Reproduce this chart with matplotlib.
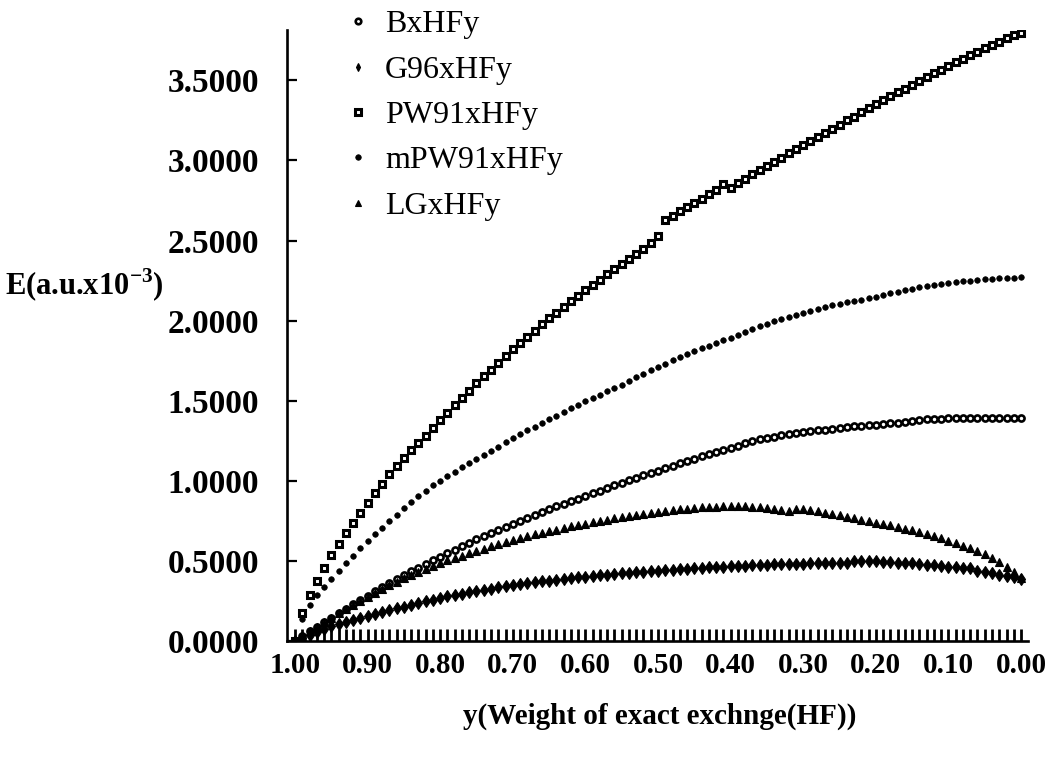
import numpy as np
import matplotlib
matplotlib.use("Agg")
import matplotlib.pyplot as plt
from matplotlib.ticker import FixedLocator, FormatStrFormatter

plt.rcParams['font.family'] = ['Liberation Serif', 'DejaVu Serif']
plt.rcParams['mathtext.fontset'] = 'custom'
plt.rcParams['mathtext.rm'] = 'Liberation Serif:bold'
plt.rcParams['mathtext.bf'] = 'Liberation Serif:bold'

# weight of exact (HF) exchange, from 1.00 down to 0.00
hf_weight = np.round(np.arange(100, -1, -1) * 0.01, 2)

bx_hf = [0.000, 0.030, 0.060, 0.090, 0.118, 0.146, 0.174, 0.202, 0.229, 0.256,
         0.283, 0.309, 0.335, 0.360, 0.385, 0.410, 0.434, 0.458, 0.481, 0.504,
         0.527, 0.549, 0.571, 0.593, 0.614, 0.635, 0.655, 0.675, 0.695, 0.714,
         0.733, 0.752, 0.770, 0.788, 0.806, 0.823, 0.840, 0.857, 0.873, 0.889,
         0.905, 0.922, 0.939, 0.956, 0.972, 0.988, 1.004, 1.019, 1.034, 1.049,
         1.064, 1.079, 1.094, 1.108, 1.122, 1.138, 1.152, 1.166, 1.180, 1.193,
         1.206, 1.220, 1.233, 1.246, 1.258, 1.267, 1.276, 1.284, 1.291, 1.298,
         1.304, 1.310, 1.315, 1.320, 1.325, 1.330, 1.335, 1.339, 1.343, 1.347,
         1.351, 1.355, 1.359, 1.363, 1.368, 1.375, 1.380, 1.383, 1.386, 1.388,
         1.389, 1.390, 1.390, 1.390, 1.390, 1.390, 1.389, 1.389, 1.389, 1.389,
         1.389]

g96_hf = [0.000, 0.020, 0.040, 0.058, 0.075, 0.091, 0.106, 0.120, 0.133, 0.146,
          0.158, 0.170, 0.181, 0.192, 0.203, 0.215, 0.227, 0.238, 0.249, 0.259,
          0.269, 0.278, 0.287, 0.296, 0.304, 0.312, 0.320, 0.327, 0.334, 0.341,
          0.348, 0.354, 0.360, 0.366, 0.372, 0.377, 0.382, 0.387, 0.392, 0.397,
          0.402, 0.406, 0.410, 0.414, 0.418, 0.422, 0.426, 0.430, 0.433, 0.436,
          0.439, 0.442, 0.445, 0.448, 0.451, 0.454, 0.457, 0.460, 0.462, 0.464,
          0.466, 0.468, 0.470, 0.472, 0.474, 0.476, 0.478, 0.480, 0.481, 0.482,
          0.483, 0.484, 0.485, 0.485, 0.486, 0.486, 0.487, 0.502, 0.501, 0.499,
          0.497, 0.495, 0.492, 0.490, 0.487, 0.484, 0.481, 0.477, 0.473, 0.469,
          0.465, 0.461, 0.457, 0.453, 0.438, 0.430, 0.422, 0.414, 0.406, 0.398,
          0.390]

pw91_hf = [0.000, 0.173, 0.287, 0.375, 0.457, 0.535, 0.603, 0.672, 0.738, 0.800,
           0.862, 0.923, 0.981, 1.040, 1.094, 1.142, 1.192, 1.238, 1.282, 1.332,
           1.382, 1.426, 1.474, 1.518, 1.562, 1.608, 1.652, 1.694, 1.736, 1.778,
           1.820, 1.860, 1.900, 1.938, 1.976, 2.014, 2.050, 2.086, 2.120, 2.154,
           2.188, 2.222, 2.256, 2.290, 2.322, 2.354, 2.386, 2.418, 2.450, 2.482,
           2.530, 2.628, 2.656, 2.684, 2.710, 2.736, 2.762, 2.788, 2.814, 2.850,
           2.826, 2.856, 2.884, 2.912, 2.938, 2.964, 2.990, 3.016, 3.044, 3.070,
           3.096, 3.122, 3.148, 3.172, 3.198, 3.224, 3.250, 3.274, 3.300, 3.326,
           3.350, 3.376, 3.400, 3.424, 3.448, 3.472, 3.496, 3.520, 3.544, 3.566,
           3.590, 3.612, 3.634, 3.656, 3.678, 3.700, 3.722, 3.742, 3.762, 3.780,
           3.795]

mpw91_hf = [0.000, 0.140, 0.225, 0.285, 0.338, 0.388, 0.438, 0.486, 0.533, 0.580,
            0.623, 0.666, 0.707, 0.749, 0.788, 0.828, 0.866, 0.903, 0.938, 0.972,
            1.001, 1.030, 1.058, 1.086, 1.113, 1.138, 1.158, 1.186, 1.213, 1.240,
            1.265, 1.290, 1.314, 1.338, 1.362, 1.385, 1.407, 1.430, 1.452, 1.474,
            1.496, 1.517, 1.538, 1.559, 1.580, 1.600, 1.622, 1.645, 1.668, 1.690,
            1.711, 1.732, 1.752, 1.771, 1.790, 1.808, 1.826, 1.843, 1.860, 1.877,
            1.894, 1.912, 1.930, 1.947, 1.964, 1.980, 1.996, 2.011, 2.025, 2.038,
            2.050, 2.062, 2.073, 2.084, 2.095, 2.104, 2.113, 2.122, 2.131, 2.140,
            2.150, 2.160, 2.170, 2.180, 2.190, 2.200, 2.209, 2.216, 2.222, 2.228,
            2.234, 2.240, 2.245, 2.250, 2.254, 2.258, 2.261, 2.264, 2.267, 2.269,
            2.272]

lg_hf = [0.000, 0.030, 0.060, 0.089, 0.117, 0.145, 0.172, 0.199, 0.225, 0.251,
         0.276, 0.300, 0.324, 0.347, 0.370, 0.392, 0.413, 0.433, 0.452, 0.470,
         0.487, 0.503, 0.518, 0.533, 0.548, 0.562, 0.576, 0.590, 0.604, 0.617,
         0.630, 0.642, 0.654, 0.665, 0.676, 0.686, 0.696, 0.706, 0.715, 0.724,
         0.733, 0.741, 0.749, 0.757, 0.765, 0.772, 0.779, 0.786, 0.793, 0.800,
         0.806, 0.812, 0.818, 0.823, 0.827, 0.831, 0.834, 0.837, 0.839, 0.841,
         0.842, 0.842, 0.841, 0.839, 0.836, 0.832, 0.826, 0.818, 0.812, 0.825,
         0.822, 0.816, 0.809, 0.801, 0.793, 0.784, 0.775, 0.766, 0.757, 0.748,
         0.739, 0.730, 0.721, 0.712, 0.702, 0.691, 0.680, 0.668, 0.655, 0.641,
         0.627, 0.612, 0.596, 0.579, 0.561, 0.541, 0.518, 0.492, 0.463, 0.430,
         0.392]

x_tick_values = [1.00, 0.90, 0.80, 0.70, 0.60, 0.50, 0.40, 0.30, 0.20, 0.10, 0.00]
y_tick_values = [0.0, 0.5, 1.0, 1.5, 2.0, 2.5, 3.0, 3.5]

W, H = 1057, 762
fig = plt.figure(figsize=(W / 100, H / 100), dpi=100)
ax = fig.add_axes([287 / W, (H - 641) / H, (1028 - 287) / W, (641 - 30) / H])

series = [
    ("BxHFy", bx_hf, dict(marker='o', ms=4.4, mfc='white', mec='black', mew=1.9)),
    ("G96xHFy", g96_hf, dict(marker='d', ms=6.2, mfc='black', mec='black', mew=0.8)),
    ("PW91xHFy", pw91_hf, dict(marker='s', ms=5.0, mfc='white', mec='black', mew=2.2)),
    ("mPW91xHFy", mpw91_hf, dict(marker='o', ms=4.0, mfc='black', mec='black', mew=0.5)),
    ("LGxHFy", lg_hf, dict(marker='^', ms=6.0, mfc='black', mec='black', mew=0.8)),
]
for name, vals, style in series:
    ax.plot(hf_weight, vals, linestyle='none', label=name, **style)

ax.set_xlim(1.011, -0.0096)
ax.set_ylim(0, 3.814)

for side in ('top', 'right'):
    ax.spines[side].set_visible(False)
for side in ('left', 'bottom'):
    ax.spines[side].set_linewidth(1.9)

ax.xaxis.set_major_locator(FixedLocator(x_tick_values))
ax.xaxis.set_minor_locator(FixedLocator(hf_weight))
ax.xaxis.set_major_formatter(FormatStrFormatter('%.2f'))
ax.yaxis.set_major_locator(FixedLocator(y_tick_values))
ax.yaxis.set_major_formatter(FormatStrFormatter('%.4f'))

ax.tick_params(axis='x', which='both', direction='in', length=8.5, width=2.0, pad=8)
ax.tick_params(axis='y', which='major', direction='in', length=7.5, width=1.6, pad=20)
ax.tick_params(axis='y', which='minor', left=False)
for lab in ax.get_xticklabels():
    lab.set_fontsize(21)
    lab.set_fontweight('bold')
for lab in ax.get_yticklabels():
    lab.set_fontsize(24)
    lab.set_fontweight('bold')

fig.text(5 / W, 1 - 285 / H, r"E(a.u.x10$^{-3}$)", fontsize=22, fontweight='bold',
         ha='left', va='center')
fig.text(660 / W, 1 - 716 / H, "y(Weight of exact exchnge(HF))", fontsize=21,
         fontweight='bold', ha='center', va='center')

leg = fig.legend(loc='upper left', bbox_to_anchor=(345 / W, 1 - 10 / H),
                 frameon=False, fontsize=23, numpoints=1, handlelength=0.8,
                 handletextpad=0.45, labelspacing=0.5, borderpad=0,
                 borderaxespad=0)
for h in leg.legend_handles:
    h.set_markersize(4.0)

fig.savefig("out.png", dpi=100)
